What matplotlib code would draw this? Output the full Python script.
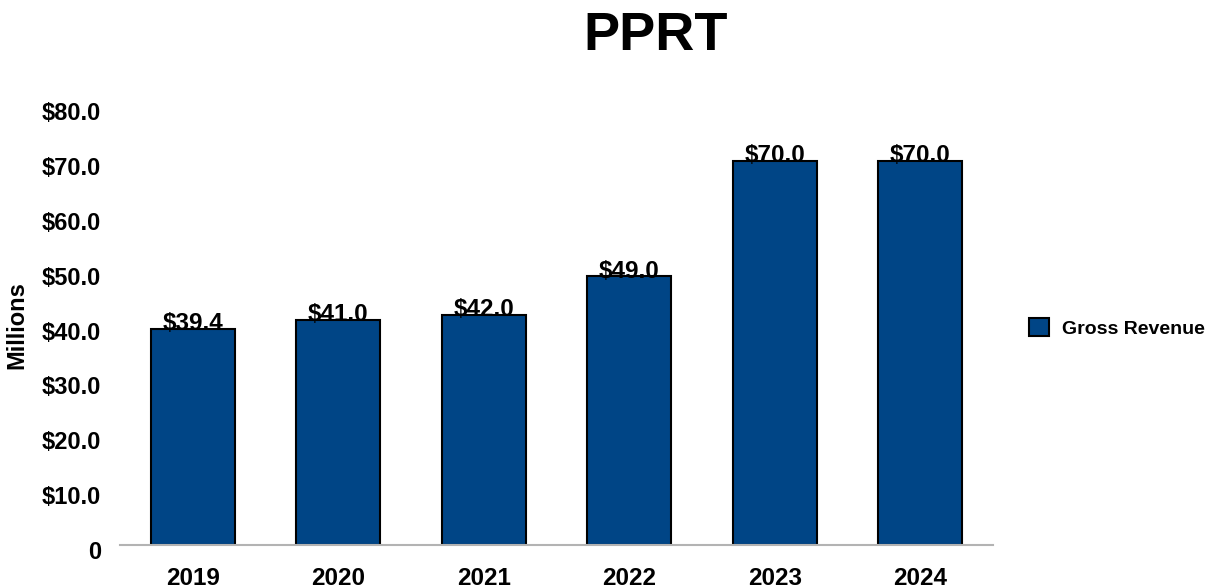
import matplotlib.pyplot as plt
import matplotlib.transforms as mtransforms
import numpy as np

years = ["2019", "2020", "2021", "2022", "2023", "2024"]
revenue = [39.4, 41.0, 42.0, 49.0, 70.0, 70.0]
y_ticks = [0, 10, 20, 30, 40, 50, 60, 70, 80]
y_tick_labels = ["0", "$10.0", "$20.0", "$30.0", "$40.0", "$50.0",
                 "$60.0", "$70.0", "$80.0"]


def main():
    plt.rcParams["font.family"] = ["Liberation Sans", "DejaVu Sans"]
    plt.rcParams["font.weight"] = "bold"

    fig = plt.figure(figsize=(12.1, 5.88), dpi=100)
    ax = fig.add_axes([120 / 1210, 43 / 588, 873 / 1210, 439 / 588])

    x = np.arange(len(years))
    bars = ax.bar(x, revenue, width=0.58, color="#004586",
                  edgecolor="black", linewidth=1.5, label="Gross Revenue")

    for xi, v in zip(x, revenue):
        ax.annotate(f"${v:.1f}", (xi, v), xytext=(0, -1),
                    textcoords="offset points", ha="center", va="baseline",
                    fontsize=17.5, fontweight="bold")

    ax.set_xlim(-0.5, len(years) - 0.5)
    ax.set_ylim(0, 80)
    ax.set_xticks(x)
    ax.set_xticklabels(years, fontsize=17.5, fontweight="bold")
    ax.set_yticks(y_ticks)
    ax.set_yticklabels(y_tick_labels, fontsize=17, fontweight="bold")
    ax.tick_params(axis="both", length=0)
    ax.tick_params(axis="y", pad=13.5)
    ax.tick_params(axis="x", pad=16)

    # tick labels on the y axis sit a few pixels below their values
    shift = mtransforms.ScaledTranslation(0, -5 / 100, fig.dpi_scale_trans)
    for lab in ax.get_yticklabels():
        lab.set_transform(lab.get_transform() + shift)

    for side in ["left", "right", "top"]:
        ax.spines[side].set_visible(False)
    ax.spines["bottom"].set_color("#b3b3b3")
    ax.spines["bottom"].set_linewidth(1.5)

    ax.set_ylabel("Millions", fontsize=17, fontweight="bold")
    ax.yaxis.set_label_coords(-0.105, 0.5)

    fig.text(656 / 1210, 1 - 36 / 588, "PPRT", ha="center", va="center",
             fontsize=39, fontweight="bold")

    fig.legend(handles=[bars], loc="center left",
               bbox_to_anchor=(1012 / 1210, 1 - 328 / 588), frameon=False,
               fontsize=14, handlelength=1.0, handleheight=1.0,
               handletextpad=0.65)

    fig.savefig("out.png", dpi=100)


if __name__ == "__main__":
    main()
